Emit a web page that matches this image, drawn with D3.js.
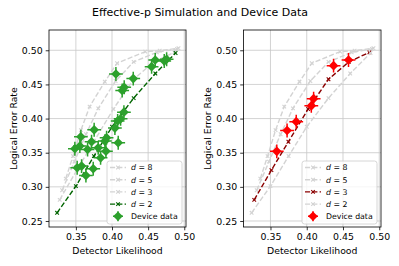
<!DOCTYPE html>
<html><head><meta charset="utf-8">
<script src="https://d3js.org/d3.v7.min.js"></script>
<style>
body{margin:0;background:#fff}
text{font-family:"DejaVu Sans",sans-serif;fill:#000}
</style></head>
<body><svg id="c" width="399" height="266"></svg>
<script>
// ---------- data ----------
const distances = [8, 5, 3, 2];
const simX_d8 = [0.336, 0.346, 0.357, 0.369, 0.390, 0.407, 0.446, 0.466, 0.492];
const simY_d8 = [0.312, 0.345, 0.383, 0.4175, 0.454, 0.481, 0.498, 0.4995, 0.503];
const simX_d5 = [0.331, 0.348, 0.364, 0.381, 0.405, 0.430, 0.462, 0.490];
const simY_d5 = [0.295, 0.337, 0.377, 0.415, 0.455, 0.483, 0.497, 0.502];
const simX_d3 = [0.3276, 0.3513, 0.3747, 0.402, 0.430, 0.458, 0.4864];
const simY_d3 = [0.281, 0.3245, 0.366, 0.414, 0.4576, 0.483, 0.497];
const simX_d2 = [0.324, 0.350, 0.375, 0.400, 0.430, 0.460, 0.488];
const simY_d2 = [0.262, 0.301, 0.345, 0.388, 0.430, 0.466, 0.496];

const deviceX_left = [0.4054,0.4294,0.4169,0.4141,0.4598,0.4548,0.4723,0.4756,0.4165,0.4119,0.4078,0.404,0.3753,0.3569,0.3486,0.3555,0.3662,0.3717,0.3809,0.3902,0.3925,0.3842,0.3916,0.4086,0.3518,0.3579,0.3639,0.374];
const deviceY_left = [0.4653,0.4585,0.4459,0.441,0.4858,0.476,0.4844,0.4868,0.4094,0.3996,0.3966,0.386,0.3835,0.3733,0.3557,0.3597,0.3547,0.366,0.3572,0.367,0.3718,0.3425,0.3523,0.3645,0.3279,0.3304,0.3167,0.3265];
const deviceX_right = [0.3587,0.3729,0.3855,0.4063,0.4095,0.437,0.4576];
const deviceY_right = [0.352,0.3825,0.3955,0.4186,0.4292,0.4775,0.4858];
const deviceXErr = 0.0095, deviceYErr = 0.0102;

const xTicks = [0.35, 0.40, 0.45, 0.50];
const yTicks = [0.25, 0.30, 0.35, 0.40, 0.45, 0.50];
const titleText = "Effective-p Simulation and Device Data";
const xLabel = "Detector Likelihood", yLabel = "Logical Error Rate";

const sims = {8:[simX_d8,simY_d8],5:[simX_d5,simY_d5],3:[simX_d3,simY_d3],2:[simX_d2,simY_d2]};

// ---------- drawing ----------
const svg = d3.select("#c");
svg.append("text").attr("x", 200).attr("y", 16).attr("text-anchor","middle")
  .attr("font-size", 11).text(titleText);

const GRAY = "#d3d3d3";
const dash = "5.1,2.2";

function xMark(g, cx, cy, r, color){
  g.append("path").attr("d",`M${cx-r},${cy-r}L${cx+r},${cy+r}M${cx-r},${cy+r}L${cx+r},${cy-r}`)
   .attr("stroke",color).attr("stroke-width",1.1).attr("fill","none");
}
function devMark(g, cx, cy, ex, ey, color){
  g.append("path").attr("d",`M${cx-ex},${cy}H${cx+ex}M${cx},${cy-ey}V${cy+ey}`)
   .attr("stroke",color).attr("stroke-width",1.5);
  const h = 4.8;
  g.append("path").attr("d",`M${cx},${cy-h}L${cx+h},${cy}L${cx},${cy+h}L${cx-h},${cy}Z`).attr("fill",color);
}

function panel(left, right, hiD, hiColor, devColor, devX, devY, ylabX){
  const top = 30, bottom = 227;
  const x = d3.scaleLinear().domain([0.3128, 0.5024]).range([left, right]);
  const y = d3.scaleLinear().domain([0.2412, 0.5297]).range([bottom, top]);
  const g = svg.append("g");
  // grid
  g.selectAll(".gx").data(xTicks).join("line").attr("x1",d=>x(d)).attr("x2",d=>x(d))
    .attr("y1",top).attr("y2",bottom).attr("stroke","#c8c8c8").attr("stroke-width",0.8);
  g.selectAll(".gy").data(yTicks).join("line").attr("y1",d=>y(d)).attr("y2",d=>y(d))
    .attr("x1",left).attr("x2",right).attr("stroke","#c8c8c8").attr("stroke-width",0.8);
  // sims
  const line = d3.line().x(d=>x(d[0])).y(d=>y(d[1]));
  distances.forEach(d=>{
    const [xs, ys] = sims[d];
    const pts = xs.map((v,i)=>[v, ys[i]]);
    const col = d===hiD ? hiColor : GRAY;
    g.append("path").datum(pts).attr("d", line).attr("fill","none").attr("stroke",col)
      .attr("stroke-width",1.4).attr("stroke-dasharray",dash);
    pts.forEach(p=>xMark(g, x(p[0]), y(p[1]), 1.8, col));
  });
  // device data
  devX.forEach((v,i)=>{
    devMark(g, x(v), y(devY[i]), x(v+deviceXErr)-x(v), y(devY[i]-deviceYErr)-y(devY[i]), devColor);
  });
  // frame
  g.append("rect").attr("x",left).attr("y",top).attr("width",right-left).attr("height",bottom-top)
    .attr("fill","none").attr("stroke","#000").attr("stroke-width",0.8);
  // axes
  const xa = g.append("g").attr("transform",`translate(0,${bottom})`)
    .call(d3.axisBottom(x).tickValues(xTicks).tickFormat(d3.format(".2f")).tickSize(3.3).tickPadding(3));
  const ya = g.append("g").attr("transform",`translate(${left},0)`)
    .call(d3.axisLeft(y).tickValues(yTicks).tickFormat(d3.format(".2f")).tickSize(3.3).tickPadding(3));
  [xa, ya].forEach(a=>{
    a.select(".domain").remove();
    a.selectAll("line").attr("stroke","#000").attr("stroke-width",0.8);
    a.selectAll("text").attr("font-size",9.4).attr("font-family","DejaVu Sans");
  });
  // labels
  svg.append("text").attr("x",(left+right)/2).attr("y",254).attr("text-anchor","middle")
    .attr("font-size",9.3).text(xLabel);
  svg.append("text").attr("transform",`translate(${ylabX},${(top+bottom)/2}) rotate(-90)`)
    .attr("text-anchor","middle").attr("font-size",9.3).text(yLabel);
  // legend
  const lx = right - 79, ly = 161, lw = 75, lh = 63;
  const L = g.append("g");
  L.append("rect").attr("x",lx).attr("y",ly).attr("width",lw).attr("height",lh).attr("rx",2.5)
    .attr("fill","#fff").attr("fill-opacity",0.8).attr("stroke","#ccc").attr("stroke-width",0.8);
  distances.forEach((d,i)=>{
    const yy = ly + 6.5 + i*12.2;
    const col = d===hiD ? hiColor : GRAY;
    L.append("line").attr("x1",lx+3).attr("x2",lx+19).attr("y1",yy).attr("y2",yy)
      .attr("stroke",col).attr("stroke-width",1.4).attr("stroke-dasharray",dash);
    xMark(L, lx+11, yy, 1.8, col);
    const t = L.append("text").attr("x",lx+24).attr("y",yy+2.8).attr("font-size",7.8);
    t.append("tspan").attr("font-style","italic").text("d");
    t.append("tspan").text(" = " + d);
  });
  const yd = ly + 6.5 + 4*12.2;
  devMark(L, lx+11, yd, 5, 5, devColor);
  L.append("text").attr("x",lx+24).attr("y",yd+2.8).attr("font-size",7.8).text("Device data");
}

panel(49, 186, 2, "#006400", "#2ca02c", deviceX_left, deviceY_left, 16.5);
panel(243.5, 381, 3, "#8b0000", "#ff0000", deviceX_right, deviceY_right, 211);
</script></body></html>
